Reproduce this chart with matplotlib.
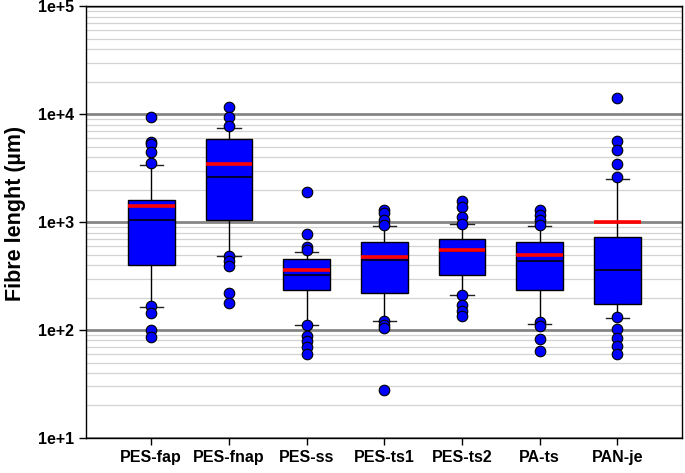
import numpy as np
import matplotlib
matplotlib.use("Agg")
import matplotlib.pyplot as plt
from matplotlib.ticker import LogLocator, FixedLocator, NullFormatter

plt.rcParams['font.family'] = ['Liberation Sans', 'DejaVu Sans']
plt.rcParams['font.weight'] = 'bold'

# values (fibre length in micrometres)
NAMES = ["PES-fap", "PES-fnap", "PES-ss", "PES-ts1", "PES-ts2", "PA-ts", "PAN-je"]
Q1 = [397, 1043, 233, 218, 324, 233, 175]
Q3 = [1607, 5840, 452, 657, 697, 649, 721]
MEDIAN = [1035, 2618, 326, 449, 540, 436, 357]
MEAN = [1414, 3474, 363, 479, 551, 495, 991]
WHISLO = [164, 481, 111, 122, 213, 114, 129]
WHISHI = [3381, 7430, 528, 910, 959, 910, 2512]
FLIERS = [
    [9320, 5550, 5280, 4460, 3510, 166, 144, 101, 86],
    [11530, 9440, 7800, 481, 432, 395, 218, 179],
    [1918, 780, 588, 547, 111, 88, 79, 69, 60],
    [1300, 1211, 1050, 944, 122, 111, 105, 28],
    [1582, 1393, 1111, 963, 213, 172, 149, 134],
    [1300, 1167, 1050, 944, 118, 109, 83, 64],
    [13960, 5660, 4660, 3436, 2636, 132, 103, 85, 71, 60],
]
YTICKS = [10, 100, 1000, 10000, 100000]
YTICKLABELS = ["1e+1", "1e+2", "1e+3", "1e+4", "1e+5"]

stats = []
for i, name in enumerate(NAMES):
    stats.append(dict(label=name, q1=Q1[i], q3=Q3[i], med=MEDIAN[i], mean=MEAN[i],
                      whislo=WHISLO[i], whishi=WHISHI[i], fliers=FLIERS[i]))

fig = plt.figure(figsize=(6.85, 4.73), dpi=100)
ax = fig.add_axes([0.1255, 0.074, 0.87, 0.913])

positions = np.arange(1, len(NAMES) + 1)
ax.bxp(stats, positions=positions, widths=0.6, patch_artist=True,
       showmeans=True, meanline=True, showfliers=True, capwidths=0.3,
       boxprops=dict(facecolor='#0000ff', edgecolor='black', linewidth=1.0),
       medianprops=dict(color='#000022', linewidth=1.3),
       meanprops=dict(color='red', linestyle='-', linewidth=2.6),
       whiskerprops=dict(color='black', linewidth=1.0),
       capprops=dict(color='#222222', linewidth=1.0),
       flierprops=dict(marker='o', markerfacecolor='#0000ff', markeredgecolor='black',
                       markersize=7.6, markeredgewidth=0.8, zorder=4))

ax.set_yscale('log')
ax.set_ylim(10, 100000)
ax.set_xlim(0.16, 7.83)
ax.yaxis.set_major_locator(FixedLocator(YTICKS))
ax.set_yticklabels(YTICKLABELS)
ax.yaxis.set_minor_locator(LogLocator(base=10, subs=np.arange(2, 10)))
ax.yaxis.set_minor_formatter(NullFormatter())
ax.tick_params(axis='y', which='minor', length=0)
ax.tick_params(axis='both', which='major', direction='out', length=5, width=1.0)
ax.tick_params(axis='y', labelsize=11.5)
ax.tick_params(axis='x', labelsize=11.5)

ax.grid(True, which='major', axis='y', color='#858585', linewidth=2.0)
ax.grid(True, which='minor', axis='y', color='#d3d3d3', linewidth=0.9)
ax.set_axisbelow(True)

for s in ax.spines.values():
    s.set_linewidth(1.0)

ax.set_ylabel('Fibre lenght (µm)', fontsize=15.5, fontweight='bold', labelpad=8)
ax.yaxis.set_label_coords(-0.1, 0.52)

fig.savefig('out.png', dpi=100)
